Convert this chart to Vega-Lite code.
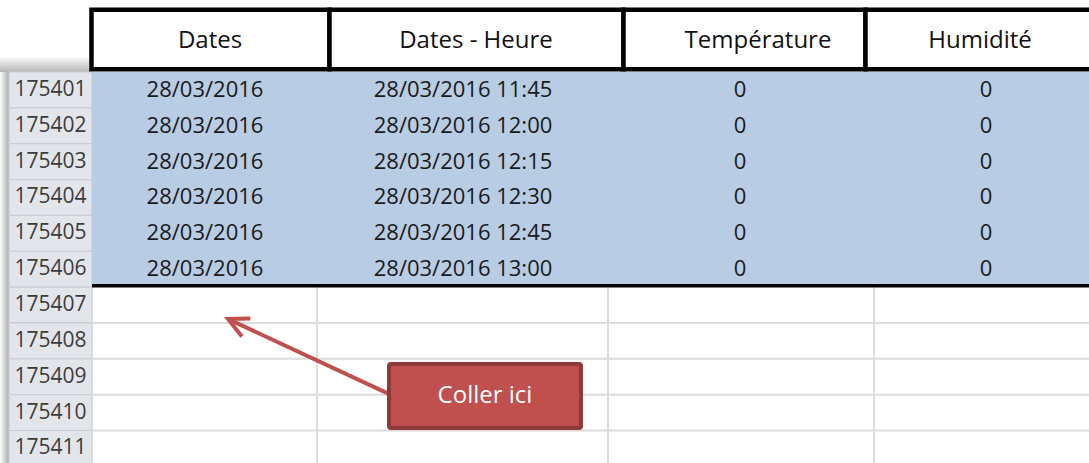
{
  "$schema": "https://vega.github.io/schema/vega-lite/v6.json",
  "width": 1089,
  "height": 463,
  "autosize": "none",
  "padding": 0,
  "background": "white",
  "config": {"view": {"stroke": null}},
  "data": {"values": [
    {"row": 175401, "Dates": "28/03/2016", "DatesHeure": "28/03/2016 11:45", "Temperature": 0, "Humidite": 0},
    {"row": 175402, "Dates": "28/03/2016", "DatesHeure": "28/03/2016 12:00", "Temperature": 0, "Humidite": 0},
    {"row": 175403, "Dates": "28/03/2016", "DatesHeure": "28/03/2016 12:15", "Temperature": 0, "Humidite": 0},
    {"row": 175404, "Dates": "28/03/2016", "DatesHeure": "28/03/2016 12:30", "Temperature": 0, "Humidite": 0},
    {"row": 175405, "Dates": "28/03/2016", "DatesHeure": "28/03/2016 12:45", "Temperature": 0, "Humidite": 0},
    {"row": 175406, "Dates": "28/03/2016", "DatesHeure": "28/03/2016 13:00", "Temperature": 0, "Humidite": 0},
    {"row": 175407},
    {"row": 175408},
    {"row": 175409},
    {"row": 175410},
    {"row": 175411}
  ]},
  "transform": [
    {"calculate": "datum.row + 1", "as": "rowEnd"},
    {"calculate": "datum.row + 0.5", "as": "rowMid"}
  ],
  "layer": [
    {
      "data": {"values": [{}]},
      "mark": {"type": "rect", "color": {"gradient": "linear", "x1": 0, "y1": 0, "x2": 1, "y2": 0, "stops": [{"offset": 0, "color": "#ffffff"}, {"offset": 1, "color": "#a9a9a9"}]}},
      "encoding": {
        "x": {"datum": 0, "type": "quantitative", "scale": {"domain": [0, 1089], "nice": false, "zero": false}, "axis": null},
        "x2": {"datum": 9},
        "y": {"datum": 175400.6, "type": "quantitative", "scale": {"domain": [175398.9916, 175411.9066], "reverse": true, "nice": false, "zero": false}, "axis": null},
        "y2": {"datum": 175411.9066}
      }
    },
    {
      "data": {"values": [{}]},
      "mark": {"type": "rect", "color": {"gradient": "linear", "x1": 0, "y1": 0, "x2": 0, "y2": 1, "stops": [{"offset": 0, "color": "#ffffff"}, {"offset": 1, "color": "#b5b5b5"}]}},
      "encoding": {
        "x": {"datum": 0},
        "x2": {"datum": 92},
        "y": {"datum": 175400.55},
        "y2": {"datum": 175401}
      }
    },
    {
      "mark": {"type": "rect", "fill": "#e2e5ea", "stroke": "#c9cdd2", "strokeWidth": 1.2},
      "encoding": {
        "x": {"datum": 9},
        "x2": {"datum": 92},
        "y": {"field": "row", "type": "quantitative"},
        "y2": {"field": "rowEnd"}
      }
    },
    {
      "mark": {"type": "text", "font": "Open Sans", "fontSize": 21, "color": "#3c3c3c", "align": "center", "baseline": "middle"},
      "encoding": {
        "x": {"datum": 50.5},
        "y": {"field": "rowMid", "type": "quantitative"},
        "text": {"field": "row", "type": "nominal"}
      }
    },
    {
      "data": {"values": [{}]},
      "mark": {"type": "rect", "fill": "#b8cce4"},
      "encoding": {
        "x": {"datum": 92},
        "x2": {"datum": 1089},
        "y": {"datum": 175401},
        "y2": {"datum": 175406.96}
      }
    },
    {
      "transform": [{"filter": "datum.row >= 175408"}],
      "mark": {"type": "rule", "color": "#dcdcdc", "strokeWidth": 2},
      "encoding": {
        "x": {"datum": 92},
        "x2": {"datum": 1089},
        "y": {"field": "row", "type": "quantitative"}
      }
    },
    {
      "data": {"values": [{}]},
      "mark": {"type": "rule", "color": "#dcdcdc", "strokeWidth": 2},
      "encoding": {"x": {"datum": 317}, "y": {"datum": 175407}, "y2": {"datum": 175411.9066}}
    },
    {
      "data": {"values": [{}]},
      "mark": {"type": "rule", "color": "#dcdcdc", "strokeWidth": 2},
      "encoding": {"x": {"datum": 608}, "y": {"datum": 175407}, "y2": {"datum": 175411.9066}}
    },
    {
      "data": {"values": [{}]},
      "mark": {"type": "rule", "color": "#dcdcdc", "strokeWidth": 2},
      "encoding": {"x": {"datum": 874}, "y": {"datum": 175407}, "y2": {"datum": 175411.9066}}
    },
    {
      "data": {"values": [{}]},
      "mark": {"type": "rule", "color": "#000000", "strokeWidth": 3.5},
      "encoding": {"x": {"datum": 92}, "x2": {"datum": 1089}, "y": {"datum": 175406.96}}
    },
    {
      "transform": [{"filter": "isValid(datum.Dates)"}],
      "mark": {"type": "text", "font": "Open Sans", "fontSize": 22, "color": "#1a1a1a", "align": "center", "baseline": "middle"},
      "encoding": {"x": {"datum": 205}, "y": {"field": "rowMid", "type": "quantitative"}, "text": {"field": "Dates"}}
    },
    {
      "transform": [{"filter": "isValid(datum.Dates)"}],
      "mark": {"type": "text", "font": "Open Sans", "fontSize": 22, "color": "#1a1a1a", "align": "center", "baseline": "middle"},
      "encoding": {"x": {"datum": 463}, "y": {"field": "rowMid", "type": "quantitative"}, "text": {"field": "DatesHeure"}}
    },
    {
      "transform": [{"filter": "isValid(datum.Dates)"}],
      "mark": {"type": "text", "font": "Open Sans", "fontSize": 22, "color": "#1a1a1a", "align": "center", "baseline": "middle"},
      "encoding": {"x": {"datum": 740}, "y": {"field": "rowMid", "type": "quantitative"}, "text": {"field": "Temperature"}}
    },
    {
      "transform": [{"filter": "isValid(datum.Dates)"}],
      "mark": {"type": "text", "font": "Open Sans", "fontSize": 22, "color": "#1a1a1a", "align": "center", "baseline": "middle"},
      "encoding": {"x": {"datum": 986}, "y": {"field": "rowMid", "type": "quantitative"}, "text": {"field": "Humidite"}}
    },
    {
      "data": {"values": [{}]},
      "mark": {"type": "rect", "fill": "white", "stroke": "black", "strokeWidth": 4.5},
      "encoding": {"x": {"datum": 91.5}, "x2": {"datum": 329.5}, "y": {"datum": 175399.2622}, "y2": {"datum": 175400.9247}}
    },
    {
      "data": {"values": [{}]},
      "mark": {"type": "rect", "fill": "white", "stroke": "black", "strokeWidth": 4.5},
      "encoding": {"x": {"datum": 329.5}, "x2": {"datum": 623.5}, "y": {"datum": 175399.2622}, "y2": {"datum": 175400.9247}}
    },
    {
      "data": {"values": [{}]},
      "mark": {"type": "rect", "fill": "white", "stroke": "black", "strokeWidth": 4.5},
      "encoding": {"x": {"datum": 623.5}, "x2": {"datum": 865.5}, "y": {"datum": 175399.2622}, "y2": {"datum": 175400.9247}}
    },
    {
      "data": {"values": [{}]},
      "mark": {"type": "rect", "fill": "white", "stroke": "black", "strokeWidth": 4.5},
      "encoding": {"x": {"datum": 865.5}, "x2": {"datum": 1096}, "y": {"datum": 175399.2622}, "y2": {"datum": 175400.9247}}
    },
    {
      "data": {"values": [{}]},
      "mark": {"type": "text", "font": "Open Sans", "fontSize": 24, "color": "#111111", "align": "center", "baseline": "middle", "text": "Dates"},
      "encoding": {"x": {"datum": 210}, "y": {"datum": 175400.1353}}
    },
    {
      "data": {"values": [{}]},
      "mark": {"type": "text", "font": "Open Sans", "fontSize": 24, "color": "#111111", "align": "center", "baseline": "middle", "text": "Dates - Heure"},
      "encoding": {"x": {"datum": 476}, "y": {"datum": 175400.1353}}
    },
    {
      "data": {"values": [{}]},
      "mark": {"type": "text", "font": "Open Sans", "fontSize": 24, "color": "#111111", "align": "center", "baseline": "middle", "text": "Température"},
      "encoding": {"x": {"datum": 758}, "y": {"datum": 175400.1353}}
    },
    {
      "data": {"values": [{}]},
      "mark": {"type": "text", "font": "Open Sans", "fontSize": 24, "color": "#111111", "align": "center", "baseline": "middle", "text": "Humidité"},
      "encoding": {"x": {"datum": 980}, "y": {"datum": 175400.1353}}
    },
    {
      "data": {"values": [{}]},
      "mark": {"type": "rule", "color": "#c0504d", "strokeWidth": 4},
      "encoding": {"x": {"datum": 230}, "y": {"datum": 175407.917}, "x2": {"datum": 392}, "y2": {"datum": 175410.02}}
    },
    {
      "data": {"values": [{}]},
      "mark": {"type": "point", "shape": "M2,-1L0,0L2,1", "filled": false, "color": "#c0504d", "strokeWidth": 4, "size": 400, "angle": 25, "opacity": 1},
      "encoding": {"x": {"datum": 228}, "y": {"datum": 175407.89}}
    },
    {
      "data": {"values": [{}]},
      "mark": {"type": "rect", "fill": "#c0504d", "stroke": "#8e3a38", "strokeWidth": 4, "cornerRadius": 2},
      "encoding": {"x": {"datum": 389}, "x2": {"datum": 581}, "y": {"datum": 175409.145}, "y2": {"datum": 175410.93}}
    },
    {
      "data": {"values": [{}]},
      "mark": {"type": "text", "font": "Open Sans", "fontSize": 24, "color": "#ffffff", "align": "center", "baseline": "middle", "text": "Coller ici"},
      "encoding": {"x": {"datum": 485}, "y": {"datum": 175410.038}}
    }
  ]
}
